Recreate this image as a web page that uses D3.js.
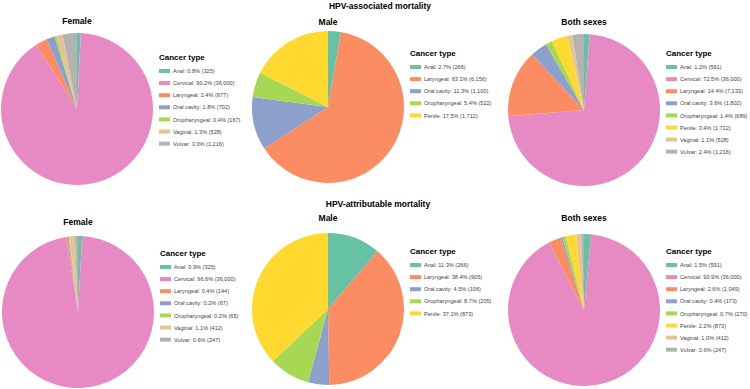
<!DOCTYPE html>
<html>
<head>
<meta charset="utf-8">
<script src="https://cdn.jsdelivr.net/npm/d3@7"></script>
<style>
  body { margin: 0; background: #fff; }
  text { font-family: "Liberation Sans", Arial, sans-serif; }
</style>
</head>
<body>
<svg id="chart" width="750" height="389"></svg>
<script>
// categories and colours (Set2)
const categories = ["Anal", "Cervical", "Laryngeal", "Oral cavity", "Oropharyngeal", "Penile", "Vaginal", "Vulvar"];
const colors = ["#66c2a5", "#e78ac3", "#fc8d62", "#8da0cb", "#a6d854", "#ffd92f", "#e5c494", "#b3b3b3"];

// [type, deaths, percent as printed in the legend]
const assocFemale = [["Anal", 325, "0.8"], ["Cervical", 36000, "90.2"], ["Laryngeal", 977, "2.4"], ["Oral cavity", 702, "1.8"], ["Oropharyngeal", 167, "0.4"], ["Vaginal", 528, "1.3"], ["Vulvar", 1216, "3.0"]];
const assocMale = [["Anal", 266, "2.7"], ["Laryngeal", 6156, "63.1"], ["Oral cavity", 1100, "11.3"], ["Oropharyngeal", 522, "5.4"], ["Penile", 1712, "17.5"]];
const assocBoth = [["Anal", 591, "1.2"], ["Cervical", 36000, "72.5"], ["Laryngeal", 7133, "14.4"], ["Oral cavity", 1802, "3.6"], ["Oropharyngeal", 689, "1.4"], ["Penile", 1712, "3.4"], ["Vaginal", 528, "1.1"], ["Vulvar", 1216, "2.4"]];
const attrFemale = [["Anal", 325, "0.9"], ["Cervical", 36000, "96.6"], ["Laryngeal", 144, "0.4"], ["Oral cavity", 67, "0.2"], ["Oropharyngeal", 65, "0.2"], ["Vaginal", 412, "1.1"], ["Vulvar", 247, "0.6"]];
const attrMale = [["Anal", 266, "11.3"], ["Laryngeal", 905, "38.4"], ["Oral cavity", 106, "4.5"], ["Oropharyngeal", 205, "8.7"], ["Penile", 873, "37.1"]];
const attrBoth = [["Anal", 591, "1.5"], ["Cervical", 36000, "90.9"], ["Laryngeal", 1049, "2.6"], ["Oral cavity", 173, "0.4"], ["Oropharyngeal", 270, "0.7"], ["Penile", 873, "2.2"], ["Vaginal", 412, "1.0"], ["Vulvar", 247, "0.6"]];

const color = d3.scaleOrdinal().domain(categories).range(colors);
const svg = d3.select('#chart');

svg.append('text').text('HPV-associated mortality')
    .attr('x', 380).attr('y', 9).attr('text-anchor', 'middle')
    .attr('font-size', 8.5).attr('font-weight', 'bold');
svg.append('text').text('HPV-attributable mortality')
    .attr('x', 378).attr('y', 207).attr('text-anchor', 'middle')
    .attr('font-size', 8.5).attr('font-weight', 'bold');

const panels = [
    {data: assocFemale, title: 'Female', cx: 77, cy: 109, ty: 24, ly: 57},
    {data: assocMale, title: 'Male', cx: 328, cy: 107, ty: 25, ly: 53},
    {data: assocBoth, title: 'Both sexes', cx: 584, cy: 110, ty: 25, ly: 53},
    {data: attrFemale, title: 'Female', cx: 78, cy: 312, ty: 225, ly: 253},
    {data: attrMale, title: 'Male', cx: 328, cy: 309, ty: 221, ly: 251},
    {data: attrBoth, title: 'Both sexes', cx: 584, cy: 310, ty: 221, ly: 251}
];

const r = 76;
const pie = d3.pie().sort(null).value(function(d) { return d[1]; });
const arc = d3.arc().innerRadius(0).outerRadius(r);
const fmt = d3.format(',');

panels.forEach(function(p) {
    const g = svg.append('g').attr('transform', 'translate(' + p.cx + ',' + p.cy + ')');
    g.selectAll('path').data(pie(p.data)).enter().append('path')
        .attr('d', arc)
        .attr('fill', function(d) { return color(d.data[0]); });

    svg.append('text').text(p.title)
        .attr('x', p.cx).attr('y', p.ty).attr('text-anchor', 'middle')
        .attr('font-size', 8.5).attr('font-weight', 'bold');

    // legend
    const lg = svg.append('g').attr('transform', 'translate(' + (p.cx + 82) + ',' + p.ly + ')');
    lg.append('text').text('Cancer type')
        .attr('x', 0).attr('y', 3)
        .attr('font-size', 8).attr('font-weight', 'bold');
    const item = lg.selectAll('g.item').data(p.data).enter().append('g')
        .attr('transform', function(d, i) { return 'translate(0,' + (14 + i * 12.1) + ')'; });
    item.append('rect')
        .attr('x', 0).attr('y', -2).attr('width', 11).attr('height', 4)
        .attr('fill', function(d) { return color(d[0]); });
    item.append('text')
        .attr('x', 14).attr('y', 2.1)
        .attr('font-size', 5.6).attr('fill', '#444')
        .text(function(d) { return d[0] + ': ' + d[2] + '% (' + fmt(d[1]) + ')'; });
});
</script>
</body>
</html>
